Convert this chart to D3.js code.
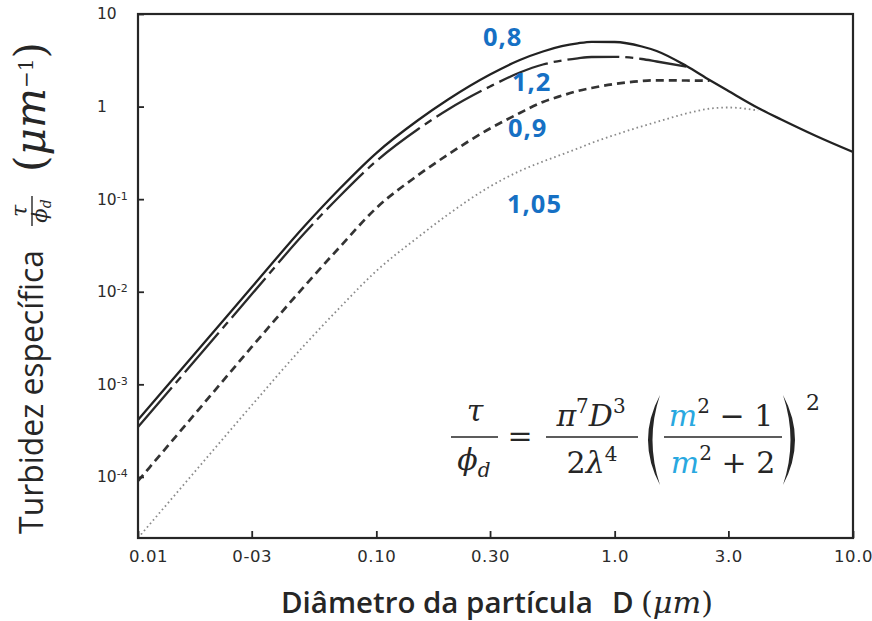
<!DOCTYPE html>
<html>
<head>
<meta charset="utf-8">
<script src="https://cdn.jsdelivr.net/npm/d3@7"></script>
<style>
  body { margin: 0; background: #fff; }
  svg { display: block; }
</style>
</head>
<body>
<svg id="chart" width="872" height="621"></svg>
<script>
// Particle diameter D (µm) at which the turbidity curves are sampled
const diameters = [0.01, 0.02, 0.03, 0.05, 0.07, 0.1, 0.15, 0.2, 0.3, 0.4, 0.5, 0.6,
                   0.7, 0.8, 1.0, 1.3, 1.5, 2.0, 2.5, 3.0, 4.0, 5.0, 7.0, 10.0];

// Specific turbidity τ/φd (µm⁻¹) for each relative refractive index m
// (null where the curve has joined the m = 0,8 envelope)
const turbM080 = [0.000412, 0.0033, 0.01117, 0.0513, 0.1288, 0.315, 0.716, 1.193, 2.221, 3.185, 3.936, 4.489,
                  4.826, 5.008, 4.984, 4.456, 3.985, 2.744, 1.937, 1.473, 0.965, 0.725, 0.481, 0.323];
const turbM120 = [0.000346, 0.00277, 0.00938, 0.0431, 0.1069, 0.258, 0.573, 0.930, 1.648, 2.334, 2.848, 3.147,
                  3.323, 3.432, 3.449, 3.266, 3.069, 2.70, null, null, null, null, null, null];
const turbM090 = [0.0000903, 0.000739, 0.00253, 0.01153, 0.0301, 0.0802, 0.1824, 0.3037, 0.5797, 0.8526, 1.121, 1.311,
                  1.473, 1.587, 1.753, 1.889, 1.922, 1.912, 1.90, null, null, null, null, null];
const turbM105 = [0.0000219, 0.0001754, 0.000593, 0.00266, 0.00667, 0.01675, 0.0390, 0.0683, 0.1370, 0.2014, 0.2551, 0.3037,
                  0.3526, 0.4044, 0.4932, 0.6124, 0.6817, 0.8419, 0.9487, 0.9775, 0.9072, null, null, null];

const seriesLabels = ["0,8", "1,2", "0,9", "1,05"];

// Axis ticks
const xTicks = [0.01, 0.03, 0.1, 0.3, 1, 3, 10];
const xTickLabels = ["0.01", "0-03", "0.10", "0.30", "1.0", "3.0", "10.0"];
const yTicks = [10, 1, 0.1, 0.01, 0.001, 0.0001];
const yTickLabels = ["10", "1", "10^-1", "10^-2", "10^-3", "10^-4"];

// ---------------------------------------------------------------
const svg = d3.select("#chart");
const plot = { left: 138, right: 853, top: 14, bottom: 538 };

const x = d3.scaleLog().domain([0.01, 10]).range([plot.left, plot.right]);
const y = d3.scaleLog().domain([Math.pow(10, -4.66), 10]).range([plot.bottom, plot.top]);

const ink = "#262626";

svg.append("defs").append("clipPath").attr("id", "plotClip")
  .append("rect")
  .attr("x", plot.left).attr("y", plot.top)
  .attr("width", plot.right - plot.left).attr("height", plot.bottom - plot.top);

// Curves
const styles = {
  "0,8":  { color: "#222222", width: 2.3, dash: null },
  "1,2":  { color: "#2a2a2a", width: 2.3, dash: "52,6,8,6" },
  "0,9":  { color: "#333333", width: 2.7, dash: "8,5" },
  "1,05": { color: "#8a8a8a", width: 1.8, dash: "1.6,3" }
};
const seriesValues = [turbM080, turbM120, turbM090, turbM105];
const series = seriesLabels.map((label, i) => ({
  label,
  points: diameters.map((d, j) => [d, seriesValues[i][j]])
}));

const line = d3.line()
  .defined(d => d[1] != null)
  .x(d => x(d[0]))
  .y(d => y(d[1]))
  .curve(d3.curveMonotoneX);

const curves = svg.append("g").attr("clip-path", "url(#plotClip)");
curves.selectAll("path")
  .data(series.slice().reverse())
  .join("path")
  .attr("d", s => line(s.points))
  .attr("fill", "none")
  .attr("stroke", s => styles[s.label].color)
  .attr("stroke-width", s => styles[s.label].width)
  .attr("stroke-dasharray", s => styles[s.label].dash)
  .attr("stroke-linejoin", "round");

// Frame
svg.append("rect")
  .attr("x", plot.left).attr("y", plot.top)
  .attr("width", plot.right - plot.left).attr("height", plot.bottom - plot.top)
  .attr("fill", "none").attr("stroke", ink).attr("stroke-width", 2.2);

// X axis
const xAxis = svg.append("g")
  .attr("transform", `translate(0,${plot.bottom})`)
  .call(d3.axisBottom(x).tickValues(xTicks)
    .tickFormat((d, i) => xTickLabels[i])
    .tickSizeInner(-7).tickSizeOuter(0).tickPadding(12));
xAxis.select(".domain").remove();
xAxis.selectAll(".tick line").attr("stroke", ink).attr("stroke-width", 1.8);
xAxis.selectAll(".tick text")
  .attr("fill", "#2b2b2b")
  .style("font-family", "'DejaVu Sans', sans-serif")
  .style("font-size", "16.5px")
  .style("letter-spacing", "0.6px");
xAxis.selectAll(".tick text").filter((d, i) => i === 0).attr("dx", 10);

// Y axis
const yAxis = svg.append("g")
  .attr("transform", `translate(${plot.left},0)`)
  .call(d3.axisLeft(y).tickValues(yTicks)
    .tickFormat(() => "")
    .tickSizeInner(-6).tickSizeOuter(0));
yAxis.select(".domain").remove();
yAxis.selectAll(".tick line").attr("stroke", ink).attr("stroke-width", 1.8);
yAxis.selectAll(".tick text")
  .attr("x", -41)
  .attr("text-anchor", "start")
  .attr("fill", "#2b2b2b")
  .style("font-family", "'DejaVu Sans', sans-serif")
  .style("font-size", "15.5px")
  .each(function (d, i) {
    const parts = yTickLabels[i].split("^");
    const t = d3.select(this);
    t.append("tspan").text(parts[0]);
    if (parts[1]) {
      t.append("tspan").attr("dy", "-0.45em").style("font-size", "11px").text(parts[1]);
    }
  });

// Series labels
const labelPos = { "0,8": [483, 46], "1,2": [512, 91], "0,9": [508, 137], "1,05": [507, 213] };
svg.append("g").selectAll("text")
  .data(seriesLabels)
  .join("text")
  .attr("x", d => labelPos[d][0])
  .attr("y", d => labelPos[d][1])
  .attr("fill", "#1670c4")
  .style("font-family", "'Open Sans', sans-serif")
  .style("font-weight", "700")
  .style("font-size", "25.5px")
  .style("letter-spacing", "1px")
  .text(d => d);

// Fit helper: scale a text's font so it spans the given width
function fitWidth(sel, target) {
  const node = sel.node();
  const fs = parseFloat(sel.style("font-size"));
  const w = node.getComputedTextLength();
  const nfs = fs * target / w;
  sel.style("font-size", nfs + "px");
  return nfs;
}

// X axis title
const xTitle = svg.append("g");
const xt1 = xTitle.append("text")
  .attr("x", 281).attr("y", 613)
  .attr("fill", ink)
  .style("font-family", "'Open Sans', sans-serif")
  .style("font-weight", "600")
  .style("font-size", "22px")
  .text("Diâmetro da partícula");
const titleSize = fitWidth(xt1, 312);
xTitle.append("text")
  .attr("x", 612).attr("y", 613)
  .attr("fill", ink)
  .style("font-family", "'Open Sans', sans-serif")
  .style("font-weight", "600")
  .style("font-size", titleSize + "px")
  .text("D");
const xt3 = xTitle.append("text")
  .attr("x", 641).attr("y", 613)
  .attr("fill", ink)
  .style("font-family", "'DejaVu Serif', serif")
  .style("font-size", "24px");
xt3.append("tspan").text("(");
xt3.append("tspan").style("font-style", "italic").text("μm");
xt3.append("tspan").text(")");
fitWidth(xt3, 72);

// Y axis title (rotated; local x = -screenY, local y = screenX)
const yTitle = svg.append("g").attr("transform", "rotate(-90)");
const yt1 = yTitle.append("text")
  .attr("x", -392).attr("y", 43)
  .attr("text-anchor", "middle")
  .attr("fill", ink)
  .style("font-family", "'Open Sans', sans-serif")
  .style("font-size", "25px")
  .text("Turbidez específica");
fitWidth(yt1, 284);
yTitle.append("text")
  .attr("x", -211).attr("y", 27)
  .attr("text-anchor", "middle")
  .attr("fill", ink)
  .style("font-family", "'DejaVu Serif', serif")
  .style("font-style", "italic")
  .style("font-size", "22px")
  .text("τ");
yTitle.append("line")
  .attr("x1", -226).attr("x2", -196)
  .attr("y1", 32).attr("y2", 32)
  .attr("stroke", ink).attr("stroke-width", 1.4);
const phiY = yTitle.append("text")
  .attr("x", -211).attr("y", 47)
  .attr("text-anchor", "middle")
  .attr("fill", ink)
  .style("font-family", "'DejaVu Serif', serif")
  .style("font-style", "italic")
  .style("font-size", "21px");
phiY.append("tspan").text("ϕ");
phiY.append("tspan").attr("dy", 4).style("font-size", "14px").text("d");
const unitY = yTitle.append("text")
  .attr("x", -172).attr("y", 45)
  .attr("fill", ink)
  .style("font-family", "'DejaVu Serif', serif")
  .style("font-size", "30px");
unitY.append("tspan").text("(");
unitY.append("tspan").style("font-style", "italic").text("μm");
unitY.append("tspan").attr("dy", -12).style("font-size", "20px").text("−1");
unitY.append("tspan").attr("dy", 12).text(")");
fitWidth(unitY, 142);

// Formula
const mBlue = "#29a8e0";
const fml = svg.append("g")
  .attr("fill", ink)
  .style("font-family", "'DejaVu Serif', serif")
  .style("font-size", "30px");

function mathText(xc, yb, parts) {
  const t = fml.append("text").attr("x", xc).attr("y", yb).attr("text-anchor", "middle");
  parts.forEach(p => {
    const s = t.append("tspan").text(p.t);
    if (p.i) s.style("font-style", "italic");
    if (p.c) s.attr("fill", p.c);
    if (p.sup) s.attr("dy", p.sup).style("font-size", "20px");
    if (p.sub) s.attr("dy", p.sub).style("font-size", "20px");
    if (p.back) s.attr("dy", p.back);
  });
  return t;
}
function bar(x1, x2) {
  fml.append("line").attr("x1", x1).attr("x2", x2).attr("y1", 437).attr("y2", 437)
    .attr("stroke", ink).attr("stroke-width", 1.7);
}
function paren(xa, xb, dir) {
  // tall bracket drawn as a filled crescent
  const top = 395, bot = 485, mid = (top + bot) / 2;
  const outer = dir < 0 ? xa - 4 : xb + 4, inner = dir < 0 ? xa + 5 : xb - 5;
  const tip = dir < 0 ? xb : xa;
  fml.append("path")
    .attr("d", `M${tip},${top} Q${outer},${mid} ${tip},${bot} Q${inner},${mid} ${tip},${top} Z`)
    .attr("fill", ink);
}

mathText(475, 421, [{ t: "τ", i: true }]);
bar(451, 498);
mathText(474, 470, [{ t: "ϕ", i: true }, { t: "d", i: true, sub: 7 }]);
mathText(520, 446, [{ t: "=" }]);
mathText(591, 426, [{ t: "π", i: true }, { t: "7", sup: -13 }, { t: "D", i: true, back: 13 }, { t: "3", sup: -13 }]);
bar(546, 638);
mathText(592, 473, [{ t: "2" }, { t: "λ", i: true }, { t: "4", sup: -12 }]);
paren(640, 660, -1);
mathText(721, 426, [{ t: "m", i: true, c: mBlue }, { t: "2", sup: -13 }, { t: " − 1", back: 13 }]);
bar(664, 782);
mathText(723, 473, [{ t: "m", i: true, c: mBlue }, { t: "2", sup: -13 }, { t: " + 2", back: 13 }]);
paren(783, 803, 1);
fml.append("text").attr("x", 806).attr("y", 410).style("font-size", "22px").text("2");
</script>
</body>
</html>
